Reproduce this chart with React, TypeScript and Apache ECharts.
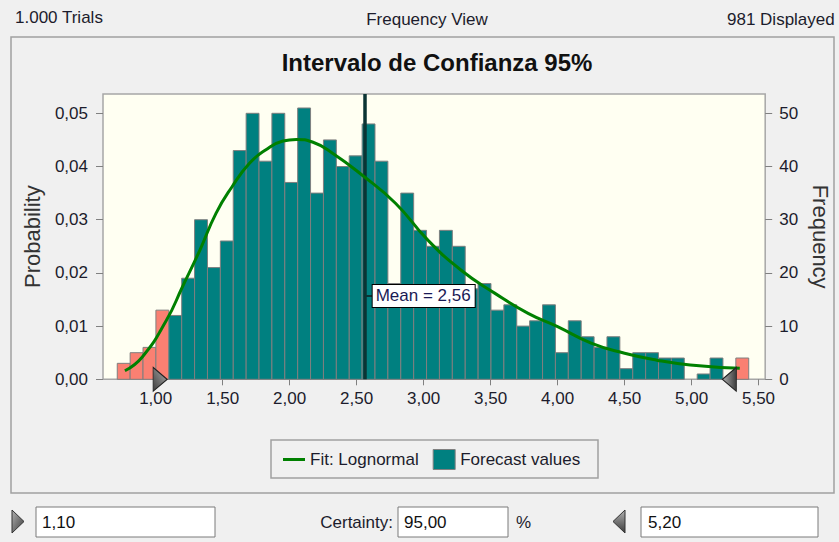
import React, { useEffect, useRef } from "react";
import * as echarts from "echarts";

// ---- data ----
const frequencies = [
  3, 5, 6, 13, 12, 19, 30, 21, 26, 43,
  50, 41, 50, 37, 51, 35, 45, 40, 42, 48,
  41, 18, 35, 28, 25, 28, 25, 17, 18, 13,
  14, 10, 11, 14, 5, 11, 8, 6, 8, 2,
  5, 5, 4, 4, 0, 1, 4, 0, 4,
];
const binStart = 0.713;
const binWidth = 0.0962;
const lowerCut = 1.1;
const upperCut = 5.2;
const meanValue = 2.56;
const trials = 1000;

const fitX = [0.77, 0.9, 1.08, 1.2, 1.33, 1.45, 1.57, 1.7, 1.82, 1.95, 2.05, 2.17, 2.32, 2.54, 2.79, 3.03, 3.28, 3.53, 3.78, 4.0, 4.25, 4.5, 4.74, 4.99, 5.36];
const fitFreq = [1.6, 4.2, 11.1, 17.4, 24.3, 31.2, 36.2, 40.6, 43.1, 44.8, 45.1, 44.6, 42.5, 38.4, 33.1, 26.2, 20.5, 16.2, 12.4, 9.9, 6.8, 4.9, 3.6, 2.7, 2.07];

const xTicks = [1, 1.5, 2, 2.5, 3, 3.5, 4, 4.5, 5, 5.5];
const probTicks = [0, 0.01, 0.02, 0.03, 0.04, 0.05];
const freqTicks = [0, 10, 20, 30, 40, 50];

const X_MIN = 0.6066;
const X_MAX = 5.5497;
const FREQ_MAX = 53.63;

const FONT = "Liberation Sans, Arial, sans-serif";
const TEXT = "#1c1c2c";

const comma = (v: number, d: number) => v.toFixed(d).replace(".", ",");

const triGrad = (x2: number) => ({
  type: "linear",
  x: 0,
  y: 0,
  x2,
  y2: 1,
  colorStops: [
    { offset: 0, color: "#b0b0b0" },
    { offset: 1, color: "#3c3c3c" },
  ],
});

export default function App() {
  const ref = useRef<HTMLDivElement>(null);

  useEffect(() => {
    if (!ref.current) return;
    const chart = echarts.init(ref.current, undefined, { renderer: "svg" });

    const bins = frequencies.map((f, i) => [
      binStart + i * binWidth,
      binStart + (i + 1) * binWidth,
      f,
    ]);

    const option: any = {
      animation: false,
      backgroundColor: "#f0f0f0",
      textStyle: { fontFamily: FONT },
      grid: {
        left: 103,
        right: 70,
        top: 94,
        bottom: 162.7,
        show: true,
        backgroundColor: "#fffff2",
        borderColor: "#a6a6a6",
        borderWidth: 1.5,
      },
      legend: {
        left: 283,
        top: 449,
        itemWidth: 22,
        itemHeight: 20,
        itemGap: 14,
        padding: 0,
        textStyle: { fontSize: 17, color: TEXT, fontFamily: FONT },
        data: [
          {
            name: "Fit: Lognormal",
            icon: "path://M0,0H22V3H0Z",
            itemStyle: { color: "#008000" },
          },
          {
            name: "Forecast values",
            icon: "rect",
            itemStyle: { color: "#008080", borderColor: "#808080", borderWidth: 1 },
          },
        ],
      },
      xAxis: {
        type: "value",
        min: X_MIN,
        max: X_MAX,
        splitLine: { show: false },
        axisLine: { show: false },
        axisTick: {
          show: true,
          length: 6,
          customValues: xTicks,
          lineStyle: { color: "#808080" },
        },
        axisLabel: {
          customValues: xTicks,
          margin: 11,
          fontSize: 17,
          color: TEXT,
          fontFamily: FONT,
          formatter: (v: number) => comma(v, 2),
        },
      },
      yAxis: [
        {
          type: "value",
          position: "left",
          min: 0,
          max: FREQ_MAX / trials,
          name: "Probability",
          nameLocation: "middle",
          nameGap: 60,
          nameTextStyle: { fontSize: 22, color: "#333", fontFamily: FONT },
          splitLine: { show: false },
          axisLine: { show: false },
          axisTick: {
            show: true,
            length: 7,
            customValues: probTicks,
            lineStyle: { color: "#808080" },
          },
          axisLabel: {
            customValues: probTicks,
            margin: 15,
            fontSize: 17,
            color: TEXT,
            fontFamily: FONT,
            formatter: (v: number) => comma(v, 2),
          },
        },
        {
          type: "value",
          position: "right",
          min: 0,
          max: FREQ_MAX,
          name: "Frequency",
          nameLocation: "middle",
          nameGap: 40,
          nameRotate: -90,
          nameTextStyle: { fontSize: 22, color: "#333", fontFamily: FONT },
          splitLine: { show: false },
          axisLine: { show: false },
          axisTick: {
            show: true,
            length: 7,
            customValues: freqTicks,
            lineStyle: { color: "#808080" },
          },
          axisLabel: {
            customValues: freqTicks,
            margin: 14,
            fontSize: 17,
            color: TEXT,
            fontFamily: FONT,
          },
        },
      ],
      series: [
        {
          name: "Forecast values",
          type: "custom",
          yAxisIndex: 1,
          encode: { x: [0, 1], y: 2 },
          data: bins,
          itemStyle: { color: "#008080" },
          renderItem: (params: any, api: any) => {
            const s = api.value(0);
            const e = api.value(1);
            const f = api.value(2);
            if (!f) return { type: "group", children: [] };
            const p0 = api.coord([s, f]);
            const p1 = api.coord([e, 0]);
            const outside = e <= lowerCut + 1e-9 || s >= upperCut - 1e-9;
            return {
              type: "rect",
              shape: { x: p0[0], y: p0[1], width: p1[0] - p0[0], height: p1[1] - p0[1] },
              style: { fill: outside ? "#fa8072" : "#008080", stroke: "#7f7f7f", lineWidth: 1 },
            };
          },
          z: 2,
        },
        {
          name: "Fit: Lognormal",
          type: "line",
          yAxisIndex: 1,
          smooth: true,
          showSymbol: false,
          symbol: "none",
          data: fitX.map((x, i) => [x, fitFreq[i]]),
          lineStyle: { color: "#008000", width: 3 },
          itemStyle: { color: "#008000" },
          z: 4,
          markLine: {
            silent: true,
            symbol: ["none", "none"],
            label: { show: false },
            lineStyle: { color: "#0b3434", width: 3.5, type: "solid" },
            data: [{ xAxis: meanValue }],
            z: 3,
          },
          markPoint: {
            silent: true,
            data: [
              {
                coord: [meanValue, 15.66],
                symbol: "rect",
                symbolSize: [8, 2],
                symbolOffset: [4, 0],
                itemStyle: { color: "#0b3434" },
                label: {
                  show: true,
                  position: "right",
                  distance: 0,
                  formatter: "Mean = " + comma(meanValue, 2),
                  fontSize: 17,
                  color: "#1a1a55",
                  fontFamily: FONT,
                  backgroundColor: "#ffffff",
                  borderColor: "#000000",
                  borderWidth: 1,
                  padding: [3, 4, 2, 3],
                },
              },
              {
                coord: [lowerCut, 0],
                symbol: "triangle",
                symbolRotate: -90,
                symbolSize: [24, 14],
                symbolOffset: [-9, 0],
                itemStyle: { color: triGrad(1), borderColor: "#222", borderWidth: 1 },
                label: { show: false },
              },
              {
                coord: [upperCut, 0],
                symbol: "triangle",
                symbolRotate: 90,
                symbolSize: [24, 14],
                symbolOffset: [11, 0],
                itemStyle: { color: triGrad(0), borderColor: "#222", borderWidth: 1 },
                label: { show: false },
              },
            ],
          },
        },
      ],
      graphic: [
        { type: "text", left: 15, top: 9, style: { text: "1.000 Trials", font: `17px ${FONT}`, fill: TEXT } },
        { type: "text", x: 427, y: 19, style: { text: "Frequency View", font: `17px ${FONT}`, fill: TEXT, textAlign: "center", textVerticalAlign: "middle" } },
        { type: "text", x: 727, y: 19, style: { text: "981 Displayed", font: `17px ${FONT}`, fill: TEXT, textVerticalAlign: "middle" } },
        { type: "rect", shape: { x: 11, y: 37, width: 823, height: 456 }, style: { fill: "none", stroke: "#a0a0a0", lineWidth: 1.5 }, z: -1 },
        { type: "text", x: 437, y: 62, style: { text: "Intervalo de Confianza 95%", font: `bold 24px ${FONT}`, fill: "#111", textAlign: "center", textVerticalAlign: "middle" } },
        { type: "rect", shape: { x: 271, y: 440, width: 327, height: 38 }, style: { fill: "none", stroke: "#a0a0a0", lineWidth: 1.5 } },
        // bottom controls
        { type: "polygon", shape: { points: [[12, 510], [24, 521.5], [12, 533]] }, style: { fill: triGrad(1), stroke: "#333", lineWidth: 1 } },
        { type: "rect", shape: { x: 36, y: 507, width: 179, height: 30 }, style: { fill: "#fff", stroke: "#7a7a7a", lineWidth: 1 } },
        { type: "text", x: 42, y: 522, style: { text: "1,10", font: `17px ${FONT}`, fill: "#111", textVerticalAlign: "middle" } },
        { type: "text", x: 393, y: 522, style: { text: "Certainty:", font: `17px ${FONT}`, fill: TEXT, textAlign: "right", textVerticalAlign: "middle" } },
        { type: "rect", shape: { x: 398, y: 507, width: 110, height: 30 }, style: { fill: "#fff", stroke: "#7a7a7a", lineWidth: 1 } },
        { type: "text", x: 404, y: 522, style: { text: "95,00", font: `17px ${FONT}`, fill: "#111", textVerticalAlign: "middle" } },
        { type: "text", x: 516, y: 522, style: { text: "%", font: `17px ${FONT}`, fill: TEXT, textVerticalAlign: "middle" } },
        { type: "polygon", shape: { points: [[625, 510], [613, 521.5], [625, 533]] }, style: { fill: triGrad(0), stroke: "#333", lineWidth: 1 } },
        { type: "rect", shape: { x: 641, y: 507, width: 177, height: 30 }, style: { fill: "#fff", stroke: "#7a7a7a", lineWidth: 1 } },
        { type: "text", x: 648, y: 522, style: { text: "5,20", font: `17px ${FONT}`, fill: "#111", textVerticalAlign: "middle" } },
      ],
    };

    chart.setOption(option);
    return () => chart.dispose();
  }, []);

  return (
    <div
      ref={ref}
      style={{ position: "fixed", left: 0, top: 0, width: 839, height: 542 }}
    />
  );
}
